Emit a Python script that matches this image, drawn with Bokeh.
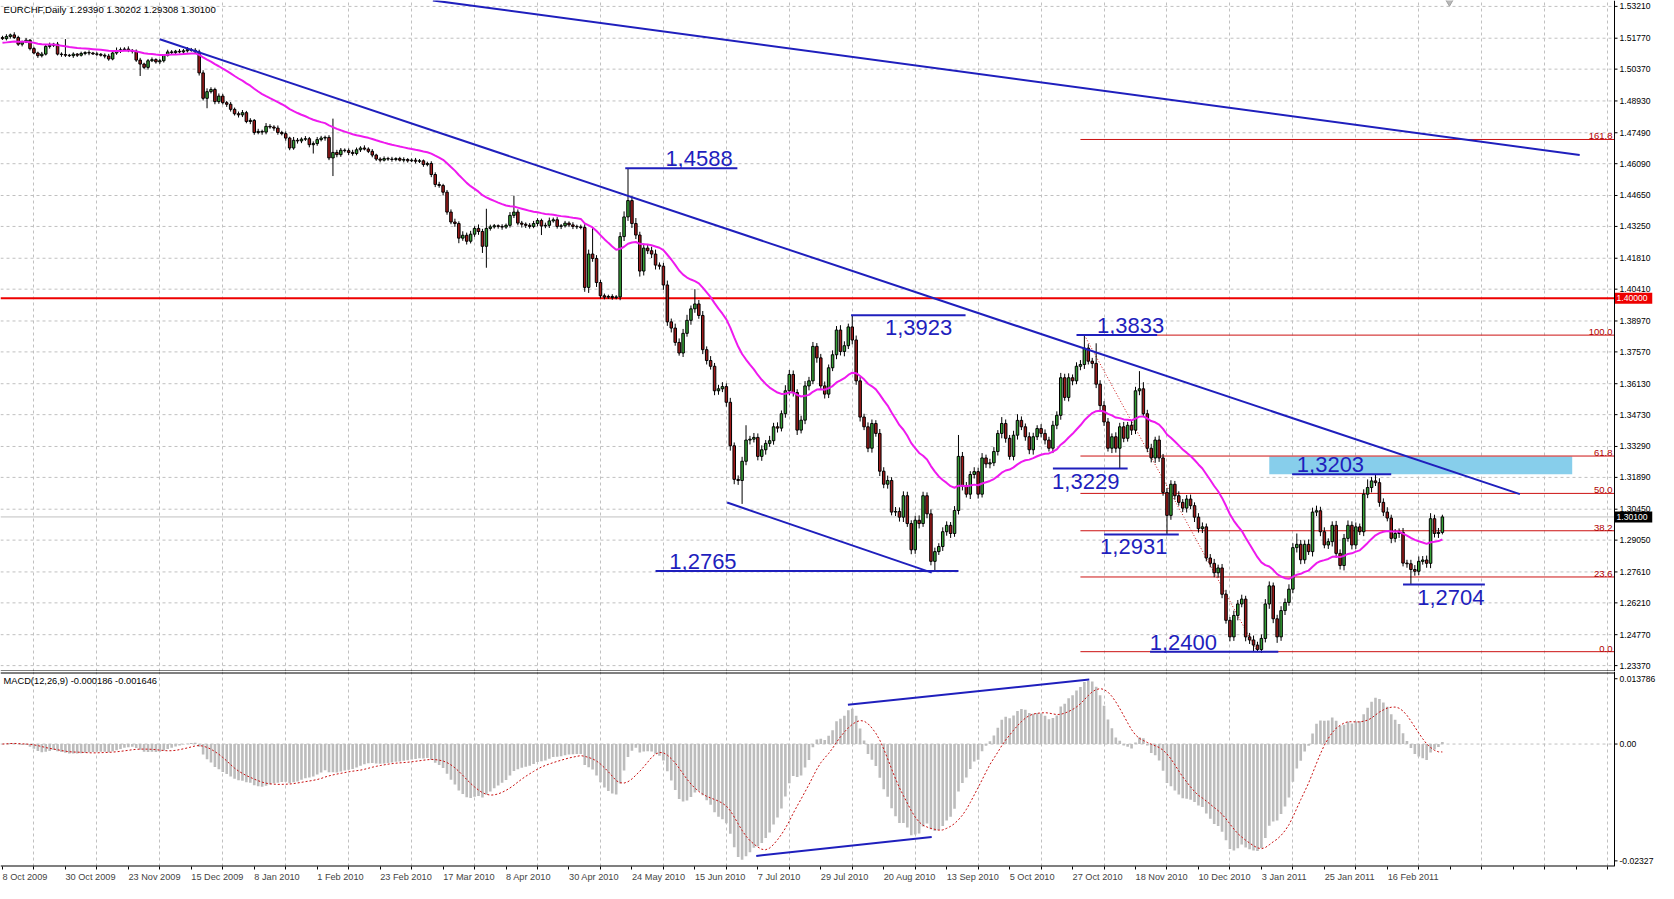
import numpy as np
from bokeh.plotting import figure
from bokeh.layouts import column
from bokeh.models import Range1d, FixedTicker, ColumnDataSource, NumeralTickFormatter
from bokeh.embed import file_html
from bokeh.resources import INLINE
from bokeh.core.properties import value

# ---------------- data ----------------
symbol_header = "EURCHF,Daily  1.29390 1.30202 1.29308 1.30100"
macd_header = "MACD(12,26,9) -0.000186 -0.001646"

# daily closes in pips (1e-4), one per bar, 8 Oct 2009 .. early Mar 2011
close_pips = [
    15175, 15185, 15192, 15180, 15150, 15160, 15168, 15130, 15110, 15098,
    15105, 15140, 15145, 15150, 15105, 15103, 15100, 15098, 15105, 15100,
    15108, 15112, 15110, 15106, 15104, 15100, 15096, 15083, 15110, 15120,
    15125, 15128, 15122, 15118, 15078, 15060, 15045, 15075, 15080, 15070,
    15075, 15100, 15115, 15112, 15118, 15115, 15120, 15125, 15122, 15115,
    15020, 14905, 14935, 14945, 14890, 14915, 14885, 14878, 14855, 14835,
    14830, 14840, 14800, 14805, 14750, 14755, 14752, 14778, 14775, 14770,
    14750, 14745, 14725, 14680, 14715, 14712, 14720, 14722, 14695, 14700,
    14718, 14725, 14728, 14635, 14660, 14650, 14670, 14668, 14660, 14655,
    14672, 14680, 14675, 14665, 14648, 14630, 14625, 14632, 14630, 14628,
    14632, 14625, 14628, 14622, 14625, 14620, 14622, 14605, 14610, 14560,
    14515, 14510, 14480, 14390, 14345, 14338, 14272, 14285, 14258, 14290,
    14316, 14302, 14235, 14316, 14323, 14328, 14325, 14322, 14330, 14375,
    14390, 14340, 14335, 14330, 14325, 14338, 14352, 14327, 14330, 14350,
    14355, 14325, 14328, 14340, 14332, 14325, 14323, 14320, 14049, 14200,
    14180, 14071, 14011, 14005, 14008, 14003, 14006, 14279, 14368, 14442,
    14338, 14286, 14123, 14227, 14215, 14200, 14150, 14145, 14060, 13893,
    13865, 13800, 13752, 13841, 13900, 13952, 13974, 13922, 13767, 13718,
    13692, 13581, 13590, 13600, 13529, 13332, 13180, 13175, 13262, 13358,
    13362, 13370, 13284, 13314, 13343, 13355, 13418, 13412, 13477, 13581,
    13655, 13573, 13403, 13448, 13603, 13626, 13782, 13730, 13603, 13566,
    13685, 13744, 13856, 13759, 13785, 13870, 13811, 13626, 13462, 13418,
    13321, 13433, 13388, 13217, 13158, 13175, 13032, 13035, 13009, 13106,
    12980, 12861, 12995, 12980, 13106, 13024, 12809, 12853, 12876, 12943,
    12972, 12935, 13039, 13284, 13150, 13113, 13202, 13215, 13113, 13277,
    13250, 13255, 13306, 13388, 13433, 13366, 13284, 13380, 13447, 13418,
    13373, 13314, 13373, 13410, 13388, 13358, 13321, 13425, 13470, 13640,
    13551, 13640, 13626, 13692, 13700, 13774, 13715, 13705, 13611, 13514,
    13440, 13321, 13373, 13321, 13418, 13366, 13425, 13403, 13581, 13590,
    13477, 13321, 13277, 13358, 13277, 13121, 13017, 13158, 13106, 13076,
    13050, 13091, 13061, 13009, 12957, 12965, 12824, 12800, 12757, 12779,
    12660, 12542, 12467, 12564, 12616, 12638, 12467, 12453, 12430, 12410,
    12460, 12616, 12698, 12549, 12467, 12586, 12623, 12683, 12871, 12886,
    12816, 12886, 12853, 13032, 13038, 12943, 12883, 12898, 12972, 12845,
    12790, 12913, 12972, 12883, 12965, 12943, 13113, 13143, 13173, 13165,
    13076, 13032, 13005, 12913, 12935, 12940, 12801, 12798, 12772, 12764,
    12809, 12815, 12800, 13002, 12935, 12940, 13010,
]
upper_wick_pips = [
    8, 10, 6, 12, 8, 6, 10, 5, 8, 6,
    10, 8, 12, 6, 10, 8, 70, 6, 8, 5,
    8, 6, 10, 5, 8, 6, 8, 10, 12, 15,
    10, 8, 12, 6, 8, 10, 6, 8, 10, 6,
    8, 5, 10, 8, 6, 10, 8, 12, 8, 10,
    10, 12, 15, 10, 8, 12, 10, 8, 10, 8,
    10, 12, 8, 10, 6, 12, 8, 15, 10, 8,
    12, 8, 10, 6, 15, 10, 8, 12, 8, 10,
    12, 10, 8, 10, 153, 12, 10, 8, 10, 12,
    10, 8, 12, 8, 10, 6, 8, 10, 8, 10,
    6, 8, 10, 6, 8, 10, 8, 6, 8, 10,
    10, 12, 8, 10, 12, 15, 10, 18, 12, 15,
    10, 18, 12, 89, 10, 8, 6, 10, 8, 15,
    74, 12, 10, 8, 10, 12, 10, 8, 12, 15,
    10, 12, 8, 10, 8, 12, 8, 10, 15, 20,
    120, 15, 12, 10, 8, 10, 8, 20, 25, 146,
    20, 25, 15, 20, 15, 18, 20, 12, 15, 20,
    15, 20, 18, 20, 25, 15, 67, 18, 20, 15,
    20, 15, 18, 20, 15, 20, 15, 18, 20, 67,
    15, 20, 18, 20, 15, 22, 18, 20, 15, 25,
    20, 18, 15, 20, 22, 18, 20, 15, 18, 20,
    15, 20, 18, 22, 20, 15, 53, 20, 18, 15,
    20, 18, 15, 20, 18, 22, 15, 20, 18, 20,
    18, 15, 20, 22, 18, 15, 20, 18, 15, 20,
    18, 15, 20, 97, 20, 18, 15, 20, 18, 22,
    15, 18, 20, 15, 29, 18, 15, 20, 28, 18,
    15, 20, 18, 15, 20, 18, 15, 20, 18, 22,
    18, 20, 15, 18, 20, 59, 18, 15, 91, 18,
    20, 18, 15, 20, 18, 22, 15, 20, 18, 80,
    30, 18, 20, 15, 20, 18, 20, 18, 15, 20,
    15, 18, 20, 15, 18, 20, 15, 18, 20, 15,
    18, 20, 15, 22, 18, 20, 15, 18, 20, 15,
    18, 22, 20, 15, 18, 20, 18, 22, 20, 49,
    20, 18, 22, 20, 23, 18, 20, 15, 18, 20,
    18, 20, 22, 18, 20, 15, 22, 37, 18, 30,
    20, 18, 22, 15, 20, 18, 20, 15, 18, 20,
    22, 18, 20, 25, 18, 20, 10,
]
lower_wick_pips = [
    6, 8, 10, 6, 8, 10, 5, 8, 6, 10,
    8, 6, 10, 8, 6, 10, 8, 6, 10, 8,
    6, 8, 10, 5, 8, 6, 10, 8, 6, 8,
    10, 6, 8, 10, 8, 54, 8, 10, 6, 8,
    10, 8, 6, 10, 8, 6, 10, 8, 6, 8,
    12, 10, 45, 8, 12, 10, 8, 12, 10, 8,
    12, 10, 8, 12, 10, 8, 12, 10, 8, 12,
    10, 8, 12, 10, 8, 12, 10, 8, 12, 40,
    10, 8, 12, 10, 82, 12, 10, 8, 12, 10,
    8, 10, 6, 8, 10, 8, 10, 6, 8, 10,
    8, 6, 10, 8, 6, 10, 8, 10, 8, 12,
    12, 10, 15, 12, 10, 15, 23, 12, 15, 10,
    12, 15, 30, 97, 10, 8, 10, 12, 8, 10,
    12, 10, 15, 12, 10, 8, 12, 41, 10, 12,
    8, 10, 12, 8, 10, 12, 10, 8, 20, 25,
    15, 20, 12, 10, 8, 10, 8, 15, 20, 18,
    20, 18, 25, 20, 15, 18, 20, 15, 22, 18,
    20, 15, 12, 18, 15, 20, 18, 15, 20, 18,
    15, 20, 18, 15, 20, 22, 22, 20, 106, 18,
    20, 15, 18, 20, 22, 15, 18, 20, 15, 18,
    20, 18, 22, 15, 18, 20, 15, 22, 18, 20,
    18, 15, 20, 18, 22, 15, 20, 18, 20, 15,
    18, 20, 15, 22, 18, 20, 15, 18, 20, 22,
    15, 20, 18, 22, 15, 20, 18, 44, 15, 20,
    18, 20, 15, 18, 20, 15, 22, 18, 20, 15,
    18, 20, 15, 18, 22, 20, 15, 18, 20, 15,
    18, 20, 22, 15, 18, 20, 15, 22, 18, 20,
    15, 18, 20, 15, 18, 20, 15, 22, 18, 20,
    18, 15, 22, 20, 92, 18, 15, 22, 18, 20,
    15, 18, 20, 22, 18, 15, 86, 20, 18, 15,
    18, 20, 15, 22, 18, 20, 15, 18, 20, 22,
    18, 15, 20, 18, 22, 15, 20, 18, 30, 10,
    15, 18, 22, 20, 27, 18, 20, 15, 18, 22,
    20, 18, 15, 22, 18, 20, 15, 18, 22, 20,
    18, 22, 15, 20, 18, 15, 20, 18, 22, 15,
    20, 18, 15, 22, 18, 20, 15, 18, 68, 20,
    18, 15, 20, 22, 18, 20, 9,
]
first_open = 1.5180
ma_period = 30
ma_seed = 1.5155

date_labels = ["8 Oct 2009", "30 Oct 2009", "23 Nov 2009", "15 Dec 2009", "8 Jan 2010",
               "1 Feb 2010", "23 Feb 2010", "17 Mar 2010", "8 Apr 2010", "30 Apr 2010",
               "24 May 2010", "15 Jun 2010", "7 Jul 2010", "29 Jul 2010", "20 Aug 2010",
               "13 Sep 2010", "5 Oct 2010", "27 Oct 2010", "18 Nov 2010", "10 Dec 2010",
               "3 Jan 2011", "25 Jan 2011", "16 Feb 2011"]
date_bars = list(range(0, 16 * len(date_labels), 16))

price_ticks = [1.53210, 1.51770, 1.50370, 1.48930, 1.47490, 1.46090, 1.44650, 1.43250,
               1.41810, 1.40410, 1.38970, 1.37570, 1.36130, 1.34730, 1.33290, 1.31890,
               1.30450, 1.29050, 1.27610, 1.26210, 1.24770, 1.23370]
price_range = (1.23103, 1.53477)
macd_range = (-0.02327, 0.013786)
macd_tick_values = [0.01241, 0.0, -0.0222]
macd_tick_labels = ["0.013786", "0.00", "-0.02327"]

key_level = 1.40000
fib_low, fib_high = 1.2400, 1.3833
fib_ratios = [0.0, 23.6, 38.2, 50.0, 61.8, 100.0, 161.8]
fib_start_bar = 274
fib_line = dict(x0=275, y0=1.3833, x1=319, y1=1.2400)
zone = dict(left=322, right=399, bottom=1.3203, top=1.3284)

level_prices = [1.4588, 1.3923, 1.2765, 1.3833, 1.3229, 1.2931, 1.2400, 1.3203, 1.2704]
level_x0 = [158.3, 215.7, 166.0, 273.0, 267.0, 280.0, 291.7, 327.8, 356.0]
level_x1 = [186.8, 244.8, 243.0, 293.5, 286.0, 299.0, 324.3, 353.0, 376.8]
level_text = ["1,4588", "1,3923", "1,2765", "1,3833", "1,3229", "1,2931", "1,2400", "1,3203", "1,2704"]
level_text_x = [168.5, 224.3, 169.5, 278.2, 266.8, 279.0, 291.6, 329.0, 359.6]
level_text_above = [True, False, True, True, False, False, True, True, False]

trend_x0 = [109.4, 40.0, 184.2]
trend_y0 = [1.5348, 1.5172, 1.3075]
trend_x1 = [400.9, 385.7, 236.2]
trend_y1 = [1.4648, 1.3113, 1.2758]

macd_trend_x0 = [214.9, 191.6]
macd_trend_y0 = [0.00745, -0.02126]
macd_trend_x1 = [276.25, 236.2]
macd_trend_y1 = [0.01226, -0.01768]

# ---------------- derived series ----------------
N = len(close_pips)
idx = np.arange(N)
C = np.array(close_pips) / 10000.0
O = np.concatenate([[first_open], C[:-1]])
TOP = np.maximum(O, C)
BOT = np.minimum(O, C)
H = TOP + np.array(upper_wick_pips[:N]) / 10000.0
L = BOT - np.array(lower_wick_pips[:N]) / 10000.0
BULL, BEAR = "#35a035", "#9e1a1a"
colors = np.where(C >= O, BULL, BEAR)


def ema(x, n, seed):
    a = 2.0 / (n + 1)
    e = seed
    out = np.empty(len(x))
    for i, v in enumerate(x):
        e = e + a * (v - e)
        out[i] = e
    return out


ma = ema(C, ma_period, ma_seed)
macd = ema(C, 12, C[0]) - ema(C, 26, C[0])
signal = np.array([macd[max(0, i - 8):i + 1].mean() for i in range(N)])

# ---------------- layout ----------------
# the frame spans the whole width; the right strip (AXW px) holds the price scale like MT4
FWT, FH1, FH2 = 1652, 671, 195
AXW = 38
XMIN, XMAX = -0.5, 409.75          # chart data area (bars)
PPB = (FWT - AXW) / (XMAX - XMIN)  # pixels per bar
XEXT = XMAX + AXW / PPB            # frame right edge (end of the scale strip)
TICK = 3 / PPB
FONT = "Liberation Sans"
AXFS = "8.6px"
BLUE = "#1f1fbd"
GRID = "#c0c0c0"


def style_yaxis(ax):
    ax.axis_line_color = None
    ax.major_tick_out = 0
    ax.major_tick_in = 0
    ax.minor_tick_line_color = None
    ax.major_label_text_font = FONT
    ax.major_label_text_font_size = AXFS
    ax.major_label_text_color = "black"
    ax.major_label_standoff = -(AXW - 5)


common = dict(output_backend="svg", toolbar_location=None, min_border_left=0, min_border_top=0,
              min_border_bottom=0, min_border_right=0, background_fill_color="white",
              border_fill_color="white", outline_line_color=None)

xr = Range1d(XMIN, XEXT)
p1 = figure(frame_width=FWT, frame_height=FH1, x_range=xr, y_range=Range1d(*price_range),
            x_axis_location=None, y_axis_location="right", **common)
p1.yaxis.ticker = FixedTicker(ticks=price_ticks)
p1.yaxis.formatter = NumeralTickFormatter(format="0.00000")
style_yaxis(p1.yaxis[0])
grid_bars = [b + 8 for b in range(0, 409, 16)]
p1.xgrid.ticker = FixedTicker(ticks=grid_bars)
p1.xgrid.grid_line_color = GRID
p1.xgrid.grid_line_dash = "3 3"
p1.ygrid.visible = False
nT = len(price_ticks)
p1.segment(x0=[XMIN] * nT, y0=price_ticks, x1=[XMAX] * nT, y1=price_ticks,
           line_color=GRID, line_dash="3 3", line_width=1)

# zone
p1.quad(left=[zone["left"]], right=[zone["right"]], bottom=[zone["bottom"]], top=[zone["top"]],
        fill_color="#87ceeb", line_color=None)
# fibonacci levels
fib_prices = [fib_low + r / 100.0 * (fib_high - fib_low) for r in fib_ratios]
p1.segment(x0=[fib_start_bar] * len(fib_prices), y0=fib_prices, x1=[XMAX] * len(fib_prices),
           y1=fib_prices, line_color="#cc1111", line_width=1)
p1.text(x=[XMAX] * len(fib_prices), y=fib_prices, text=["%.1f" % r for r in fib_ratios],
        text_align="right", text_baseline="bottom", x_offset=-2, y_offset=0,
        text_font=value(FONT), text_font_size="9.5px", text_color="#b00000")
p1.segment(x0=[fib_line["x0"]], y0=[fib_line["y0"]], x1=[fib_line["x1"]], y1=[fib_line["y1"]],
           line_color="#cc1111", line_width=1, line_dash="1 2")
# key level and current price line
p1.segment(x0=[XMIN], y0=[key_level], x1=[XMAX], y1=[key_level], line_color="#ee0000", line_width=2)
p1.segment(x0=[XMIN], y0=[C[-1]], x1=[XMAX], y1=[C[-1]], line_color="#c0c0c0", line_width=1)

# candles
src = ColumnDataSource(dict(x=idx, h=H, l=L, top=TOP, bot=BOT, color=colors))
p1.segment(x0="x", y0="l", x1="x", y1="h", source=src, line_color="black", line_width=1)
p1.vbar(x="x", top="top", bottom="bot", width=0.64, fill_color="color", line_color="black",
        line_width=1, source=src)
# moving average
p1.line(idx, ma, line_color="#ee1aee", line_width=2)

# trend lines
p1.segment(x0=trend_x0, y0=trend_y0, x1=trend_x1, y1=trend_y1, line_color=BLUE, line_width=2)
# level marks
p1.segment(x0=level_x0, y0=level_prices, x1=level_x1, y1=level_prices, line_color=BLUE, line_width=2)
ab = [i for i, a in enumerate(level_text_above) if a]
be = [i for i, a in enumerate(level_text_above) if not a]
p1.text(x=[level_text_x[i] for i in ab], y=[level_prices[i] for i in ab], text=[level_text[i] for i in ab],
        text_align="left", text_baseline="bottom", y_offset=-2,
        text_font=value(FONT), text_font_size="22px", text_color=BLUE)
p1.text(x=[level_text_x[i] for i in be], y=[level_prices[i] for i in be], text=[level_text[i] for i in be],
        text_align="left", text_baseline="top", y_offset=5,
        text_font=value(FONT), text_font_size="22px", text_color=BLUE)
# header
p1.text(x=[XMIN], y=[price_range[1]], text=[symbol_header], text_align="left", text_baseline="top",
        x_offset=3, y_offset=3, text_font=value(FONT), text_font_size="9.6px", text_color="black")
# chart shift marker
p1.scatter(x=[367.8], y=[price_range[1]], marker="inverted_triangle", size=10,
           fill_color="#b8b8b8", line_color="#a0a0a0")

# price scale strip: axis line, tick marks, pane bottom line and the two highlighted price boxes
p1.segment(x0=[XMAX, XMIN], y0=[price_range[0], price_range[0]], x1=[XMAX, XMAX],
           y1=[price_range[1], price_range[0]], line_color="black", line_width=[1, 2])
p1.segment(x0=[XMAX] * nT, y0=price_ticks, x1=[XMAX + TICK] * nT, y1=price_ticks,
           line_color="black", line_width=1)
PPX = (price_range[1] - price_range[0]) / FH1
box_y = [key_level, C[-1]]
box_text = ["%.5f" % key_level, "%.5f" % C[-1]]
box_fill = ["#ee0000", "black"]
p1.quad(left=[XMAX + 0.5 / PPB] * 2, right=[XEXT] * 2, bottom=[y - 5.5 * PPX for y in box_y],
        top=[y + 5.5 * PPX for y in box_y], fill_color=box_fill, line_color=None)
p1.text(x=[XMAX] * 2, y=box_y, text=box_text, text_align="left", text_baseline="middle", x_offset=2,
        text_font=value(FONT), text_font_size=AXFS, text_color="white")

# ---------------- MACD pane ----------------
p2 = figure(frame_width=FWT, frame_height=FH2, x_range=xr, y_range=Range1d(*macd_range),
            y_axis_location="right", **common)
p2.yaxis.ticker = FixedTicker(ticks=macd_tick_values)
p2.yaxis.major_label_overrides = {v: t for v, t in zip(macd_tick_values, macd_tick_labels)}
style_yaxis(p2.yaxis[0])
p2.ygrid.visible = False
p2.xgrid.ticker = FixedTicker(ticks=grid_bars)
p2.xgrid.grid_line_color = GRID
p2.xgrid.grid_line_dash = "3 3"
p2.segment(x0=[XMIN], y0=[0.0], x1=[XMAX], y1=[0.0], line_color=GRID, line_dash="3 3", line_width=1)

p2.vbar(x=idx, top=macd, bottom=0, width=0.66, fill_color="#bcbcbc", line_color=None)
p2.line(idx, signal, line_color="#c81010", line_width=1, line_dash="2 2")
p2.segment(x0=macd_trend_x0, y0=macd_trend_y0, x1=macd_trend_x1, y1=macd_trend_y1,
           line_color=BLUE, line_width=2)
p2.text(x=[XMIN], y=[macd_range[1]], text=[macd_header], text_align="left", text_baseline="top",
        x_offset=3, y_offset=4, text_font=value(FONT), text_font_size="9.3px", text_color="black")
# pane frame: top separator (second line of the double rule), bottom line, scale line and ticks
MPX = (macd_range[1] - macd_range[0]) / FH2
top_rule = macd_range[1] - 1.5 * MPX
p2.segment(x0=[XMIN, XMIN, XMAX], y0=[top_rule, macd_range[0], macd_range[0]],
           x1=[XMAX, XMAX, XMAX], y1=[top_rule, macd_range[0], macd_range[1]],
           line_color="black", line_width=[1, 2, 1])
nM = len(macd_tick_values)
p2.segment(x0=[XMAX] * nM, y0=macd_tick_values, x1=[XMAX + TICK] * nM, y1=macd_tick_values,
           line_color="black", line_width=1)

# date axis: labels start at their bar, so centre each label half its width to the right
EM = {" ": 0.278, "O": 0.778, "c": 0.5, "t": 0.278, "N": 0.722, "o": 0.556, "v": 0.5, "D": 0.722,
      "e": 0.556, "J": 0.5, "a": 0.556, "n": 0.556, "F": 0.611, "b": 0.556, "M": 0.833, "r": 0.333,
      "A": 0.667, "p": 0.556, "y": 0.5, "u": 0.556, "l": 0.222, "S": 0.667, "g": 0.556}
DATE_FS = 9.2
centers = []
for b, t in zip(date_bars, date_labels):
    w = sum(EM.get(ch, 0.556) for ch in t) * DATE_FS
    centers.append(round(b + (w / 2.0) / PPB, 3))
xa = p2.xaxis[0]
xa.ticker = FixedTicker(ticks=centers, minor_ticks=list(range(0, 409, 8)))
xa.major_label_overrides = {c: t for c, t in zip(centers, date_labels)}
xa.major_tick_out = 0
xa.major_tick_in = 0
xa.minor_tick_out = 3
xa.minor_tick_in = 0
xa.minor_tick_line_color = "black"
xa.axis_line_color = None
xa.major_label_standoff = 2
xa.major_label_text_font = FONT
xa.major_label_text_font_size = "%.1fpx" % DATE_FS

layout = column(p1, p2, spacing=0)
open("out.html", "w").write(file_html(layout, INLINE, title="EURCHF Daily"))
